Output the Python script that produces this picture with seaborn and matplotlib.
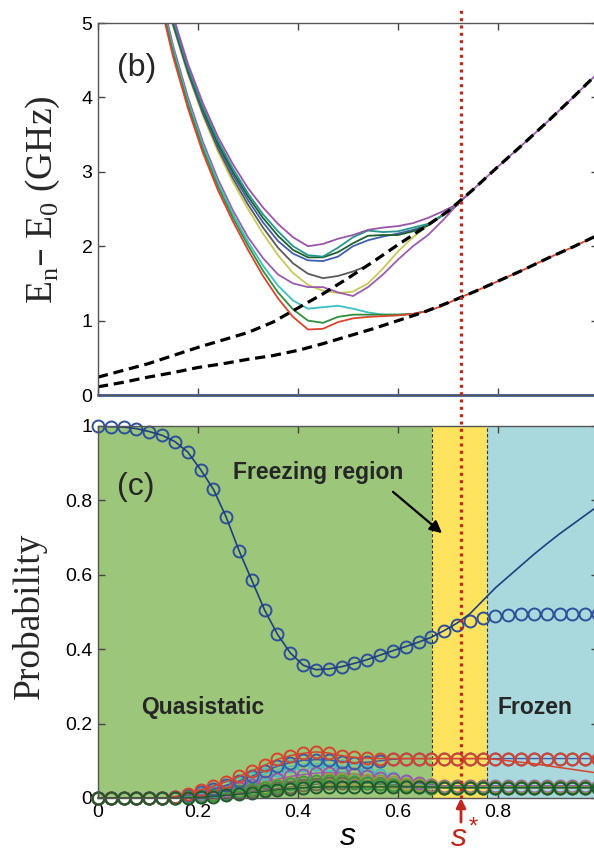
import numpy as np
import pandas as pd
import matplotlib
matplotlib.use('Agg')
import matplotlib.pyplot as plt
import seaborn as sns

# ---------------- data: panel (b), energy gaps ----------------
s_dash = [0.0, 0.05, 0.10, 0.15, 0.20, 0.25, 0.30, 0.35, 0.40, 0.45, 0.50,
          0.55, 0.60, 0.65, 0.70, 0.75, 0.80, 0.85, 0.90, 0.95, 1.00]
gap_low = [0.11, 0.17, 0.24, 0.30, 0.37, 0.42, 0.48, 0.53, 0.60, 0.69, 0.79,
           0.89, 1.00, 1.11, 1.24, 1.38, 1.53, 1.68, 1.84, 1.99, 2.15]
gap_up = [0.24, 0.33, 0.42, 0.53, 0.64, 0.74, 0.84, 0.98, 1.17, 1.36, 1.57,
          1.79, 2.02, 2.24, 2.47, 2.76, 3.07, 3.37, 3.68, 4.00, 4.33]

s_lev = [0.12, 0.15, 0.18, 0.21, 0.24, 0.27, 0.30, 0.33, 0.36, 0.39, 0.42, 0.45, 0.48,
         0.51, 0.54, 0.57, 0.60, 0.63, 0.66, 0.69, 0.72, 0.75, 0.80, 0.85, 0.90, 0.95, 1.00]
na = np.nan
lev_red = [5.40, 4.55, 3.85, 3.25, 2.75, 2.33, 1.95, 1.60, 1.30, 1.05, 0.88, 0.89, 0.98,
           1.03, 1.05, 1.06, 1.07, 1.09, 1.13, 1.20, 1.30, 1.38, 1.53, 1.68, 1.84, 1.99, 2.15]
lev_green = [5.45, 4.60, 3.90, 3.30, 2.80, 2.38, 2.01, 1.67, 1.38, 1.15, 1.00, 0.97, 1.05,
             1.08, 1.08, 1.08, 1.08, 1.09, 1.13, na, na, na, na, na, na, na, na]
lev_cyan = [5.50, 4.65, 3.95, 3.35, 2.85, 2.43, 2.06, 1.74, 1.47, 1.27, 1.16, 1.18, 1.20,
            1.16, 1.11, 1.08, 1.08, 1.09, 1.13, na, na, na, na, na, na, na, na]
lev_purple = [5.55, 4.70, 4.00, 3.40, 2.90, 2.48, 2.12, 1.84, 1.62, 1.50, 1.45, 1.45, 1.38,
              1.33, 1.45, 1.62, 1.82, 2.00, 2.15, 2.35, 2.57, 2.76, 3.07, 3.37, 3.68, 4.00, 4.33]
lev_purple2 = [5.90, 5.10, 4.45, 3.92, 3.47, 3.10, 2.78, 2.52, 2.30, 2.12, 2.00, 2.03, 2.10,
               2.15, 2.22, 2.25, 2.27, 2.31, 2.38, 2.47, 2.57, 2.76, na, na, na, na, na]
lev_teal = [5.85, 5.05, 4.40, 3.87, 3.42, 3.04, 2.71, 2.43, 2.20, 2.00, 1.88, 1.86, 1.98,
            2.12, 2.21, 2.19, 2.20, 2.25, 2.30, 2.42, 2.56, na, na, na, na, na, na]
lev_dkgreen = [5.82, 5.02, 4.37, 3.84, 3.38, 3.00, 2.67, 2.38, 2.14, 1.95, 1.85, 1.85, 1.92,
               2.04, 2.14, 2.15, 2.15, 2.20, 2.28, 2.42, 2.56, na, na, na, na, na, na]
lev_blue = [5.80, 5.00, 4.35, 3.81, 3.35, 2.96, 2.62, 2.32, 2.07, 1.90, 1.81, 1.80, 1.86,
            2.00, 2.08, 2.13, 2.17, 2.22, 2.28, 2.42, 2.56, na, na, na, na, na, na]
lev_gray = [5.78, 4.98, 4.33, 3.78, 3.31, 2.91, 2.56, 2.25, 1.98, 1.77, 1.63, 1.57, 1.60,
            1.66, 1.74, na, na, na, na, na, na, na, na, na, na, na, na]
lev_yellow = [5.76, 4.96, 4.31, 3.75, 3.27, 2.86, 2.50, 2.17, 1.88, 1.64, 1.48, 1.40, 1.37,
              1.39, 1.50, 1.70, 1.93, 2.12, 2.28, 2.43, 2.58, na, na, na, na, na, na]

# ---------------- data: panel (c), probabilities ----------------
s_prob = np.linspace(0, 1, 40)
p_ground = [1.0, .998, .997, .993, .985, .975, .958, .93, .883, .83, .755, .665, .585, .505,
            .44, .39, .357, .345, .347, .353, .362, .372, .384, .396, .407, .419, .432, .45,
            .465, .476, .485, .49, .493, .494, .495, .495, .495, .495, .495, .495]
p_ground_line = [1.0, .998, .997, .993, .985, .975, .958, .93, .883, .83, .755, .665, .585, .505,
                 .44, .39, .357, .345, .347, .353, .362, .372, .384, .396, .407, .419, .432, .45,
                 .47, .495, .53, .565, .595, .625, .655, .683, .71, .735, .76, .785]
p_red = [0, 0, 0, 0, 0, 0, .004, .012, .022, .032, .044, .058, .073, .088, .104, .114, .12,
         .124, .121, .114, .109, .107, .106, .106, .106, .106, .106, .106, .106, .106, .106,
         .106, .106, .106, .106, .106, .106, .106, .106, .106]
p_red_line = [0, 0, 0, 0, 0, 0, .004, .012, .022, .032, .044, .058, .073, .088, .104, .114, .12,
              .124, .121, .114, .109, .107, .106, .106, .106, .106, .106, .106, .106, .106, .106,
              .104, .1, .096, .092, .087, .082, .077, .072, .067]
p_blue = [0, 0, 0, 0, 0, 0, .003, .008, .015, .024, .034, .046, .059, .072, .085, .095, .101,
          .103, .102, .098, .095, .096, .1, .104, .106, .106, .106, .106, .106, .106, .106,
          .106, .106, .106, .106, .106, .106, .106, .106, .106]
p_cyan = [0, 0, 0, 0, 0, 0, .002, .006, .012, .02, .03, .041, .053, .065, .076, .085, .09,
          .092, .09, .086, .079, .071, .062, .053, .045, .038, .033, .03, .03, .03, .03,
          .03, .03, .03, .03, .03, .03, .03, .03, .03]
p_purple = [0, 0, 0, 0, 0, 0, .002, .005, .009, .014, .02, .027, .035, .043, .051, .058, .063,
            .067, .068, .067, .064, .06, .055, .05, .045, .04, .036, .033, .033, .033, .033,
            .033, .033, .033, .033, .033, .033, .033, .033, .033]
p_olive = [0, 0, 0, 0, 0, 0, .001, .003, .006, .01, .014, .019, .024, .029, .034, .039, .043,
           .047, .05, .051, .05, .048, .045, .042, .038, .034, .031, .03, .03, .03, .03,
           .03, .03, .03, .03, .03, .03, .03, .03, .03]
p_gray = [0, 0, 0, 0, 0, 0, .001, .002, .004, .007, .01, .014, .018, .022, .026, .03, .034,
          .037, .04, .041, .041, .04, .038, .035, .032, .029, .027, .027, .027, .027, .027,
          .027, .027, .027, .027, .027, .027, .027, .027, .027]
p_green = [0, 0, 0, 0, 0, 0, .001, .003, .006, .009, .013, .018, .023, .028, .033, .038, .042,
           .045, .046, .045, .043, .04, .037, .034, .031, .029, .028, .028, .028, .028, .028,
           .028, .028, .028, .028, .028, .028, .028, .028, .028]
p_dkgreen = [0, 0, 0, 0, 0, 0, 0, 0, .002, .004, .007, .01, .014, .018, .022, .025, .028,
             .029, .03, .03, .03, .03, .03, .03, .03, .03, .03, .028, .028, .028, .028,
             .028, .028, .028, .028, .028, .028, .028, .028, .028]

s_star = 0.726
freeze_lo, freeze_hi = 0.668, 0.778

# ---------------- style ----------------
sns.set_theme(style='ticks')
plt.rcParams['font.family'] = ['Liberation Sans', 'DejaVu Sans']

fig = plt.figure(figsize=(5.94, 8.51), dpi=100)
ax_b = fig.add_axes([98 / 594, (851 - 395) / 851, 500 / 594, 372 / 851])
ax_c = fig.add_axes([98 / 594, (851 - 798) / 851, 500 / 594, 372 / 851])


def draw(ax, x, y, color, **kw):
    df = pd.DataFrame({'s': x, 'v': y}).dropna()
    sns.lineplot(data=df, x='s', y='v', ax=ax, color=color, estimator=None,
                 sort=False, legend=False, **kw)


# ---- panel (b)
levels = [
    (lev_yellow, '#c8c85a'), (lev_gray, '#5a5a5a'), (lev_blue, '#3e5fae'),
    (lev_dkgreen, '#1f5f2e'), (lev_teal, '#26968a'), (lev_purple2, '#9a55a8'),
    (lev_purple, '#9b5cab'), (lev_cyan, '#3cbfc0'), (lev_green, '#2f8f3f'),
    (lev_red, '#d9452f'),
]
for vals, c in levels:
    draw(ax_b, s_lev, vals, c, lw=1.3)
draw(ax_b, s_dash, gap_up, 'black', lw=2.3, linestyle=(0, (3.2, 1.8)))
draw(ax_b, s_dash, gap_low, 'black', lw=2.3, linestyle=(0, (3.2, 1.8)))
draw(ax_b, [0, 1], [0, 0], '#4f6fad', lw=2.2, clip_on=False)

ax_b.set_xlim(0, 1)
ax_b.set_ylim(0, 5)
ax_b.set_xticks([0, 0.2, 0.4, 0.6, 0.8, 1.0])
ax_b.set_xticklabels([])
ax_b.set_yticks([0, 1, 2, 3, 4, 5])
ax_b.set_yticklabels(['0', '1', '2', '3', '4', '5'])
ax_b.set_xlabel('')
ax_b.set_ylabel(r'E$_\mathregular{n}$– E$_\mathregular{0}$ (GHz)', family='Liberation Serif',
                fontsize=27)
ax_b.yaxis.set_label_coords(-0.072, 0.524)
ax_b.text(0.078, 4.4, '(b)', fontsize=23, ha='center', va='center')

# ---- panel (c)
ax_c.axvspan(0, freeze_lo, color='#9cc67a', lw=0, zorder=0)
ax_c.axvspan(freeze_lo, freeze_hi, color='#fde35e', lw=0, zorder=0)
ax_c.axvspan(freeze_hi, 1, color='#a9d9dc', lw=0, zorder=0)
for xv in (freeze_lo, freeze_hi):
    ax_c.axvline(xv, color='#333333', lw=0.8, ls=(0, (3, 2)), zorder=1)

mk = dict(marker='o', markersize=8.6, markerfacecolor='none', markeredgewidth=1.4,
          clip_on=False)
small = [(p_cyan, '#3bbfc4'), (p_purple, '#9a56aa'), (p_olive, '#9a9a3a'),
         (p_gray, '#6f6a4c'), (p_green, '#3f9a3f'), (p_blue, '#3b5aa8')]
for vals, c in small:
    draw(ax_c, s_prob, vals, c, markeredgecolor=c, lw=1.0, **mk)
draw(ax_c, s_prob, p_red, '#d8432e', markeredgecolor='#d8432e', linestyle='none', **mk)
draw(ax_c, s_prob, p_red_line, '#d8432e', lw=1.1)
draw(ax_c, s_prob, p_dkgreen, '#1e5a2e', markeredgecolor='#1e5a2e', lw=1.0, **mk)
draw(ax_c, s_prob, p_ground, '#2e4f9a', markeredgecolor='#2e4f9a', linestyle='none', **mk)
draw(ax_c, s_prob, p_ground_line, '#1f3f80', lw=1.2)

ax_c.set_xlim(0, 1)
ax_c.set_ylim(0, 1)
ax_c.set_xticks([0, 0.2, 0.4, 0.6, 0.8, 1.0])
ax_c.set_xticklabels(['0', '0.2', '0.4', '0.6', '0.8', '1'])
ax_c.set_yticks([0, 0.2, 0.4, 0.6, 0.8, 1.0])
ax_c.set_yticklabels(['0', '0.2', '0.4', '0.6', '0.8', '1'])
ax_c.set_xlabel('')
ax_c.set_ylabel('Probability', family='Liberation Serif', fontsize=27)
ax_c.yaxis.set_label_coords(-0.102, 0.49)

ax_c.text(0.076, 0.836, '(c)', fontsize=23, ha='center', va='center')
ax_c.text(0.44, 0.874, 'Freezing region', fontsize=16.5, fontweight='bold',
          ha='center', va='center')
ax_c.text(0.209, 0.243, 'Quasistatic', fontsize=16.5, fontweight='bold',
          ha='center', va='center')
ax_c.text(0.874, 0.243, 'Frozen', fontsize=16.5, fontweight='bold',
          ha='center', va='center')
ax_c.annotate('', xy=(0.688, 0.712), xytext=(0.59, 0.823),
              arrowprops=dict(arrowstyle='-|>', color='black', lw=1.6,
                              mutation_scale=18, shrinkA=0, shrinkB=0))

# s* marker line through both panels
red = '#c0271d'
ax_c.axvline(s_star, ymin=0, ymax=(798 - 8) / 372, color=red, lw=2.4,
             ls=(0, (0.9, 1.3)), clip_on=False, zorder=6)
ax_c.annotate('', xy=(s_star, 0), xycoords=('data', 'axes fraction'),
              xytext=(s_star, -0.065), textcoords=('data', 'axes fraction'),
              arrowprops=dict(arrowstyle='-|>', color=red, lw=2,
                              mutation_scale=14, shrinkA=0, shrinkB=0))
xt = ax_c.get_xaxis_transform()
ax_c.text(s_star - 0.004, -0.128, 's', color=red, fontsize=23, fontstyle='italic',
          ha='center', va='baseline', transform=xt)
ax_c.text(s_star + 0.024, -0.095, '*', color=red, fontsize=17,
          ha='center', va='baseline', transform=xt)
ax_c.text(0.5, -0.126, 's', color='black', fontsize=23, fontstyle='italic',
          ha='center', va='baseline', transform=xt)

for ax in (ax_b, ax_c):
    ax.tick_params(direction='in', length=5, width=1, top=True, right=True,
                   labelsize=14, colors='#444444', labelcolor='black', pad=4)
    for sp in ax.spines.values():
        sp.set_color('#555555')
        sp.set_linewidth(1.0)
    ax.set_facecolor('white')

fig.savefig('out.png', dpi=100)
